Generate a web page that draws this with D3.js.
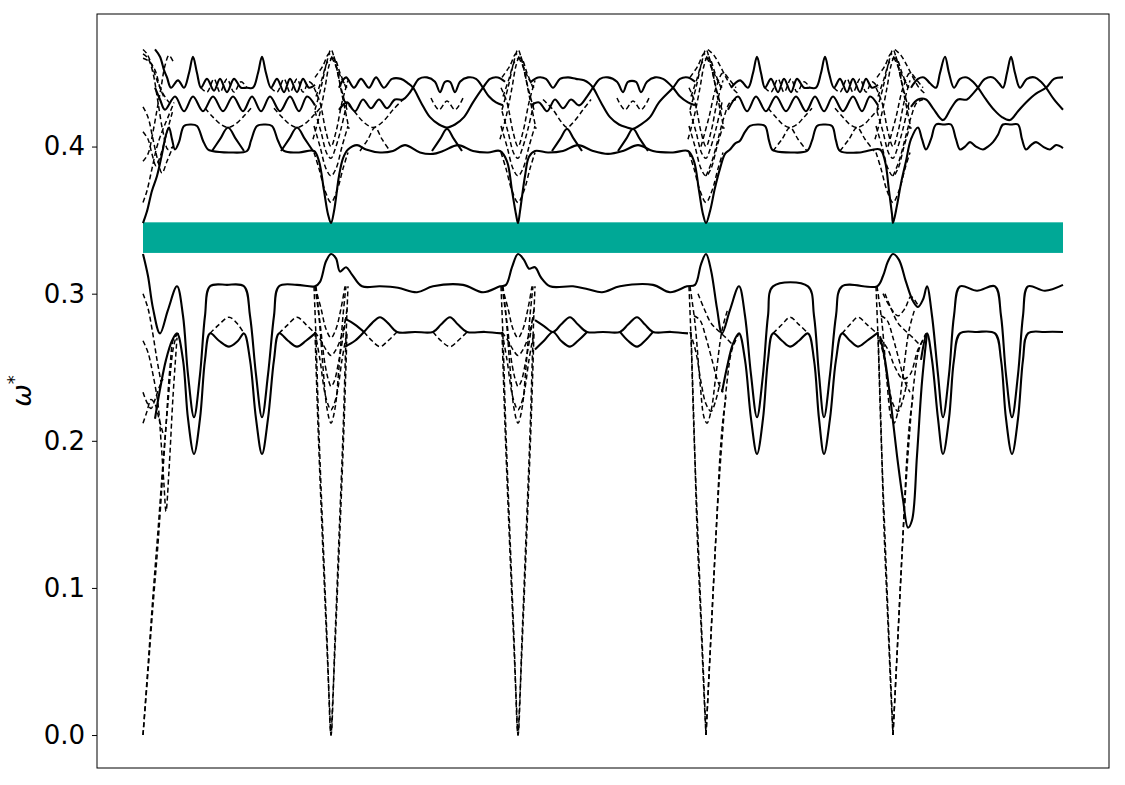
<!DOCTYPE html>
<html>
<head>
<meta charset="utf-8">
<script src="https://cdn.jsdelivr.net/npm/d3@7"></script>
<style>
  body { margin: 0; background: #fff; }
  text { font-family: "DejaVu Sans", sans-serif; }
</style>
</head>
<body>
<div id="chart"></div>
<script>
// path position of the high-symmetry points (arbitrary units along k-path)
var kPoints = [0, 188, 375, 563, 750, 920];
var gapBand = [0.3277, 0.3485];
var yTicks = [0.0, 0.1, 0.2, 0.3, 0.4];

// ---------- lower bands ----------
var lowUpper = [[0,0.327],[5,0.312],[10,0.29],[17,0.273],[25,0.289],[34,0.305],[40,0.285],[45,0.245],[51,0.216],[57,0.245],[62,0.285],[67,0.305],[84,0.306],[101,0.305],[107,0.285],[113,0.245],[119,0.216],[125,0.245],[131,0.285],[136,0.305],[154,0.306],[172,0.305],[177,0.308],[183,0.322],[188,0.327],[193,0.324],[197,0.315],[203,0.318],[209,0.313],[219,0.305],[237,0.305],[255,0.304],[274,0.301],[290,0.305],[320,0.306],[340,0.301],[357,0.305],[363,0.306],[369,0.318],[375,0.327],[381,0.323],[386,0.317],[392,0.318],[398,0.311],[407,0.305],[430,0.305],[445,0.303],[459,0.301],[477,0.305],[510,0.306],[527,0.301],[544,0.305],[552,0.306],[558,0.32],[563,0.327],[568,0.316],[574,0.29],[579,0.273],[587,0.289],[596,0.305],[602,0.285],[608,0.245],[614,0.216],[620,0.245],[625,0.285],[630,0.305],[665,0.305],[671,0.285],[676,0.245],[681,0.216],[687,0.245],[693,0.285],[699,0.305],[734,0.305],[740,0.312],[745,0.322],[750,0.327],[756,0.323],[763,0.308],[770,0.295],[775,0.291],[780,0.296],[784,0.305],[789,0.285],[795,0.245],[800,0.216],[806,0.245],[811,0.285],[817,0.305],[834,0.302],[852,0.305],[858,0.285],[863,0.245],[869,0.216],[875,0.245],[880,0.285],[885,0.305],[902,0.302],[920,0.306]];

var lowSeg1 = [[12,0.215],[17,0.235],[23,0.255],[29,0.268],[34,0.273],[40,0.255],[45,0.215],[51,0.191],[57,0.215],[62,0.255],[67,0.273],[76,0.268],[86,0.264],[95,0.268],[101,0.273],[107,0.255],[113,0.215],[119,0.191],[125,0.215],[131,0.255],[136,0.273],[145,0.268],[154,0.264],[163,0.268],[172,0.273]];
var lowSeg1LoopA = [[67,0.273],[76,0.279],[86,0.284],[95,0.279],[101,0.273]];
var lowSeg1LoopB = [[136,0.273],[145,0.279],[154,0.284],[163,0.279],[172,0.273]];

var lowSeg2 = [[202,0.264],[212,0.268],[221,0.274],[229,0.28],[237,0.284],[245,0.28],[254,0.274],[272,0.274],[290,0.274],[298,0.279],[307,0.284],[315,0.279],[324,0.274],[342,0.274],[359,0.273]];
var lowSeg2Cross = [[202,0.283],[212,0.279],[221,0.274]];
var lowSeg2LoopA = [[221,0.274],[229,0.268],[237,0.264],[245,0.268],[254,0.274]];
var lowSeg2LoopB = [[290,0.274],[298,0.268],[307,0.264],[315,0.268],[324,0.274]];

var lowSeg3 = [[392,0.282],[401,0.278],[410,0.274],[418,0.279],[427,0.284],[435,0.279],[444,0.274],[460,0.274],[477,0.274],[485,0.279],[494,0.284],[502,0.279],[510,0.274],[528,0.274],[545,0.273]];
var lowSeg3LoopA = [[392,0.262],[401,0.268],[410,0.274],[418,0.268],[427,0.264],[435,0.268],[444,0.274]];
var lowSeg3LoopB = [[477,0.274],[485,0.268],[494,0.264],[502,0.268],[510,0.274]];

var lowSeg4 = [[579,0.233],[584,0.25],[590,0.266],[596,0.273],[602,0.255],[608,0.215],[614,0.191],[620,0.215],[625,0.255],[630,0.273],[639,0.268],[647,0.264],[656,0.268],[665,0.273],[671,0.255],[676,0.215],[681,0.191],[687,0.215],[693,0.255],[699,0.273],[707,0.268],[715,0.264],[724,0.268],[734,0.273]];
var lowSeg4LoopA = [[630,0.273],[639,0.279],[647,0.284],[656,0.279],[665,0.273]];
var lowSeg4LoopB = [[699,0.273],[707,0.279],[715,0.284],[724,0.279],[734,0.273]];

var lowSeg5 = [[778,0.255],[784,0.273],[789,0.255],[795,0.215],[800,0.191],[806,0.215],[811,0.255],[817,0.273],[834,0.274],[852,0.273],[858,0.255],[863,0.215],[869,0.191],[875,0.215],[880,0.255],[885,0.273],[902,0.274],[920,0.274]];
var lowSeg5Dip = [[737,0.271],[742,0.255],[748,0.225],[754,0.19],[760,0.16],[765,0.141],[769,0.146],[774,0.19],[779,0.24],[784,0.273]];
var lowSeg5Dash = [[737,0.27],[745,0.262],[752,0.25],[760,0.242],[767,0.245],[775,0.262],[784,0.273]];
var lowSeg5Dash2 = [[740,0.3],[748,0.29],[755,0.285],[762,0.29],[768,0.298],[775,0.292]];

// start of path (lower)
var startLow = [
  [[0,0],[5,0.047],[10,0.095],[15,0.139],[20,0.185],[25,0.226],[30,0.262],[34,0.273]],
  [[0,0],[5,0.043],[10,0.088],[15,0.13],[19,0.17],[23,0.21],[27,0.25],[31,0.27],[36,0.273]],
  [[0,0.268],[5,0.26],[10,0.245],[15,0.225],[18,0.2],[21,0.17],[23,0.152],[26,0.18],[30,0.23],[34,0.27]],
  [[0,0.233],[4,0.226],[8,0.222],[12,0.228],[16,0.236],[20,0.242]],
  [[0,0.212],[4,0.22],[8,0.228],[12,0.225],[16,0.215],[20,0.205]],
  [[0,0.3],[5,0.29],[10,0.272],[14,0.255],[18,0.24]]
];

// bundles at interior k-points, x is offset from the point
var midBundleLow = [
  [[-17,0.305],[-15,0.27],[-12,0.205],[-8,0.135],[-4,0.066],[0,0],[4,0.066],[8,0.135],[12,0.205],[15,0.27],[17,0.305]],
  [[-16,0.274],[-13,0.21],[-9,0.14],[-5,0.075],[-1.5,0.02],[0,0],[1.5,0.02],[5,0.075],[9,0.14],[13,0.21],[16,0.274]],
  [[-15,0.305],[-12,0.285],[-8,0.25],[-4,0.222],[0,0.212],[4,0.222],[8,0.25],[12,0.285],[15,0.305]],
  [[-16,0.274],[-11,0.255],[-6,0.232],[-2,0.223],[0,0.221],[2,0.223],[6,0.232],[11,0.255],[16,0.274]],
  [[-16,0.305],[-11,0.28],[-6,0.252],[-2,0.24],[0,0.237],[3,0.24],[8,0.255],[13,0.275],[16,0.29]],
  [[-16,0.274],[-10,0.268],[-5,0.262],[0,0.258],[5,0.262],[10,0.27],[15,0.284]],
  [[-16,0.305],[-10,0.29],[-5,0.276],[0,0.27],[5,0.276],[10,0.29],[14,0.305]]
];
var turnBundleLow = [
  [[-17,0.305],[-15,0.27],[-12,0.205],[-8,0.135],[-4,0.066],[0,0]],
  [[-15,0.274],[-12,0.21],[-9,0.14],[-5,0.075],[-1.5,0.02],[0,0]],
  [[0,0],[4,0.055],[8,0.11],[12,0.16],[16,0.2],[21,0.24],[26,0.262],[33,0.273]],
  [[0,0],[3,0.04],[7,0.095],[11,0.15],[14,0.19],[17,0.215],[20,0.23]],
  [[-16,0.305],[-11,0.28],[-6,0.24],[-2,0.216],[1,0.212],[5,0.22],[10,0.245],[16,0.275],[22,0.29]],
  [[-16,0.274],[-10,0.26],[-5,0.24],[0,0.225],[5,0.22],[10,0.228],[14,0.24]],
  [[-12,0.285],[-6,0.282],[0,0.27],[6,0.255],[12,0.24],[17,0.233]],
  [[-8,0.3],[-2,0.29],[5,0.28],[12,0.275],[20,0.27],[27,0.265]]
];

// ---------- upper bands ----------
var upLowest = [[0,0.348],[4,0.356],[9,0.37],[14,0.38],[19,0.395],[23,0.408],[26,0.413],[29,0.405],[32,0.398],[36,0.403],[41,0.414],[48,0.415],[54,0.414],[60,0.404],[65,0.398],[69,0.397],[86,0.396],[104,0.397],[108,0.404],[114,0.414],[122,0.415],[129,0.414],[135,0.404],[141,0.397],[156,0.396],[171,0.397],[176,0.39],[181,0.37],[185,0.354],[188,0.348],
  [191,0.356],[196,0.38],[200,0.392],[205,0.398],[214,0.401],[223,0.398],[237,0.396],[250,0.397],[262,0.401],[277,0.396],[290,0.395],[300,0.397],[315,0.401],[330,0.397],[345,0.396],[357,0.397],[364,0.39],[369,0.37],[373,0.354],[375,0.348],
  [377,0.356],[382,0.38],[386,0.393],[392,0.397],[405,0.396],[420,0.397],[435,0.401],[450,0.397],[465,0.395],[480,0.397],[495,0.401],[510,0.397],[530,0.396],[545,0.397],[551,0.39],[556,0.37],[560,0.354],[563,0.348],
  [567,0.356],[572,0.372],[577,0.385],[582,0.395],[587,0.398],[592,0.402],[597,0.404],[602,0.41],[607,0.414],[615,0.415],[622,0.414],[626,0.404],[629,0.398],[632,0.397],[648,0.396],[664,0.397],[669,0.404],[674,0.414],[681,0.415],[689,0.414],[693,0.404],[697,0.397],[717,0.396],[737,0.398],[742,0.39],[746,0.37],[749,0.354],[750,0.348],
  [754,0.36],[758,0.375],[763,0.39],[768,0.405],[775,0.413],[779,0.405],[783,0.398],[788,0.405],[793,0.415],[801,0.415],[808,0.415],[813,0.405],[817,0.398],[822,0.4],[827,0.403],[833,0.4],[840,0.398],[845,0.4],[850,0.403],[855,0.408],[860,0.415],[868,0.415],[875,0.415],[879,0.405],[883,0.398],[888,0.401],[893,0.403],[900,0.4],[907,0.398],[913,0.401],[920,0.399]];

var peaksSolid = [
  [[69,0.397],[77,0.405],[85,0.413],[93,0.405],[101,0.397]],
  [[138,0.397],[146,0.405],[154,0.413],[162,0.405],[170,0.397]],
  [[289,0.397],[297,0.405],[304,0.412],[311,0.405],[319,0.397]],
  [[409,0.397],[417,0.405],[424,0.412],[431,0.405],[439,0.397]],
  [[475,0.397],[483,0.405],[490,0.412],[497,0.405],[505,0.397]]
];
var peaksDashed = [
  [[217,0.397],[225,0.405],[232,0.413],[239,0.405],[247,0.397]],
  [[630,0.397],[639,0.405],[647,0.413],[655,0.405],[664,0.397]],
  [[697,0.397],[706,0.405],[714,0.413],[722,0.405],[731,0.397]]
];
var dipsDashed = [
  [[62,0.426],[70,0.42],[78,0.415],[85,0.413],[92,0.415],[100,0.42],[108,0.426]],
  [[131,0.426],[139,0.42],[147,0.415],[154,0.413],[161,0.415],[169,0.42],[177,0.426]],
  [[200,0.432],[210,0.425],[220,0.417],[230,0.413],[240,0.417],[250,0.425],[260,0.432]],
  [[400,0.432],[410,0.425],[418,0.417],[424,0.413],[431,0.417],[440,0.425],[448,0.432]],
  [[625,0.426],[633,0.42],[640,0.415],[647,0.413],[654,0.415],[661,0.42],[669,0.426]],
  [[692,0.426],[700,0.42],[707,0.415],[714,0.413],[721,0.415],[728,0.42],[736,0.426]]
];

var midSeg1 = [[12,0.44],[17,0.432],[22,0.425],[32,0.434],[41,0.424],[50,0.434],[60,0.424],[70,0.434],[80,0.424],[90,0.434],[100,0.424],[109,0.434],[118,0.424],[127,0.434],[137,0.424],[147,0.434],[156,0.424],[164,0.434],[172,0.428]];
var midSeg4 = [[585,0.425],[595,0.434],[604,0.424],[613,0.434],[623,0.424],[633,0.434],[643,0.424],[653,0.434],[663,0.424],[672,0.434],[681,0.424],[690,0.434],[700,0.424],[710,0.434],[719,0.424],[727,0.434],[735,0.428]];

var topSeg1 = [[12,0.466],[17,0.461],[21,0.452],[24,0.447],[28,0.44],[35,0.445],[41,0.44],[46,0.45],[50,0.461],[54,0.45],[58,0.44],[64,0.446],[71,0.438],[77,0.446],[84,0.437],[91,0.446],[98,0.44],[104,0.44],[110,0.44],[115,0.45],[119,0.461],[123,0.45],[128,0.44],[134,0.446],[141,0.437],[147,0.446],[154,0.437],[160,0.446],[166,0.44],[172,0.442]];
var topSeg4 = [[588,0.44],[597,0.445],[605,0.44],[610,0.45],[614,0.461],[618,0.45],[622,0.44],[628,0.446],[635,0.437],[641,0.446],[648,0.437],[654,0.446],[661,0.44],[667,0.44],[673,0.44],[678,0.45],[682,0.461],[686,0.45],[691,0.44],[697,0.446],[704,0.437],[710,0.446],[717,0.437],[723,0.446],[729,0.44],[735,0.442]];
var topWavesDashed = [
  [[58,0.44],[64,0.437],[71,0.446],[77,0.437],[84,0.446],[91,0.437],[98,0.444],[104,0.44]],
  [[128,0.44],[134,0.437],[141,0.446],[147,0.437],[154,0.446],[160,0.437],[166,0.444],[172,0.44]],
  [[622,0.44],[628,0.437],[635,0.446],[641,0.437],[648,0.446],[654,0.437],[661,0.444],[667,0.44]],
  [[691,0.44],[697,0.437],[704,0.446],[710,0.437],[717,0.446],[723,0.437],[729,0.444],[735,0.44]]
];

var braidSeg2A = [[196,0.44],[203,0.447],[211,0.44],[218,0.446],[226,0.44],[233,0.447],[241,0.44],[249,0.446],[258,0.446],[265,0.443],[270,0.44],[278,0.43],[287,0.42],[296,0.415],[304,0.413],[312,0.415],[321,0.42],[330,0.43],[340,0.44],[347,0.446],[355,0.447],[362,0.444]];
var braidSeg2B = [[196,0.425],[204,0.43],[212,0.424],[220,0.432],[228,0.426],[236,0.432],[244,0.426],[252,0.432],[260,0.432],[266,0.436],[270,0.44],[276,0.446],[284,0.447],[292,0.444],[297,0.437],[302,0.444],[307,0.444],[312,0.437],[317,0.444],[325,0.447],[333,0.446],[340,0.44],[346,0.434],[353,0.43],[360,0.428]];
var braidSeg3A = [[388,0.444],[395,0.447],[403,0.446],[410,0.44],[417,0.446],[425,0.447],[433,0.446],[441,0.445],[446,0.443],[450,0.44],[458,0.43],[467,0.42],[476,0.415],[484,0.413],[490,0.412],[498,0.415],[507,0.42],[516,0.43],[530,0.44],[537,0.446],[545,0.447],[552,0.444]];
var braidSeg3B = [[388,0.428],[396,0.43],[404,0.424],[412,0.432],[420,0.426],[428,0.432],[436,0.428],[444,0.434],[450,0.44],[457,0.446],[465,0.447],[474,0.444],[480,0.437],[485,0.444],[493,0.444],[498,0.437],[504,0.444],[512,0.447],[520,0.446],[530,0.44],[537,0.434],[545,0.43],[552,0.428]];
var braidInnerDashed = [
  [[288,0.433],[296,0.425],[304,0.431],[312,0.425],[320,0.433]],
  [[474,0.433],[482,0.425],[490,0.431],[498,0.425],[506,0.433]]
];

var topSeg5A = [[768,0.44],[775,0.446],[781,0.447],[787,0.443],[793,0.44],[797,0.45],[802,0.461],[806,0.45],[811,0.44],[817,0.446],[824,0.447],[830,0.444],[835,0.44],[843,0.432],[851,0.425],[859,0.42],[867,0.418],[875,0.424],[883,0.43],[893,0.436],[903,0.44],[911,0.446],[920,0.447]];
var topSeg5B = [[768,0.427],[775,0.432],[783,0.432],[790,0.426],[800,0.418],[808,0.426],[815,0.432],[824,0.432],[830,0.436],[835,0.44],[842,0.446],[850,0.447],[856,0.443],[860,0.44],[864,0.45],[868,0.461],[872,0.45],[877,0.44],[884,0.446],[892,0.447],[898,0.444],[903,0.44],[911,0.432],[920,0.425]];

var startUp = [
  [[0,0.466],[4,0.463],[9,0.455],[14,0.445],[20,0.436],[26,0.43]],
  [[0,0.463],[5,0.46],[10,0.45],[15,0.43],[20,0.41],[25,0.398],[30,0.4]],
  [[0,0.46],[6,0.458],[12,0.452],[17,0.44],[22,0.432]],
  [[0,0.427],[5,0.42],[10,0.405],[15,0.39],[19,0.382],[24,0.39],[30,0.4]],
  [[0,0.41],[5,0.405],[9,0.395],[13,0.387],[18,0.395],[24,0.41],[30,0.425]],
  [[0,0.362],[4,0.37],[9,0.385],[14,0.4],[19,0.41],[25,0.42],[31,0.43]],
  [[0,0.39],[5,0.395],[10,0.41],[14,0.425],[18,0.44],[22,0.455],[26,0.462],[30,0.458]]
];
var bundleUp = [
  [[-17,0.396],[-12,0.385],[-6,0.37],[0,0.362],[6,0.37],[12,0.385],[17,0.396]],
  [[-17,0.414],[-11,0.4],[-5,0.385],[0,0.38],[5,0.385],[11,0.4],[17,0.414]],
  [[-16,0.424],[-10,0.41],[-4,0.395],[0,0.392],[4,0.398],[10,0.412],[16,0.43]],
  [[-16,0.425],[-10,0.44],[-4,0.458],[0,0.466],[4,0.458],[10,0.44],[16,0.425]],
  [[-18,0.405],[-12,0.42],[-6,0.44],[-2,0.455],[2,0.462],[6,0.452],[12,0.432],[18,0.412]],
  [[-16,0.447],[-8,0.455],[-2,0.463],[4,0.456],[10,0.447],[16,0.44]],
  [[-17,0.44],[-11,0.43],[-5,0.41],[0,0.4],[5,0.41],[11,0.43],[17,0.445]],
  [[-15,0.434],[-9,0.446],[-3,0.458],[3,0.46],[9,0.45],[15,0.44]]
];
var turnBundleUp = [
  [[-5,0.4],[3,0.42],[10,0.44],[17,0.45],[24,0.445],[30,0.44]],
  [[0,0.38],[6,0.39],[12,0.405],[18,0.42],[24,0.43],[30,0.432]],
  [[2,0.466],[8,0.462],[14,0.455],[20,0.447],[26,0.44],[32,0.436]]
];

// build the list of lines the chart needs
var midPoints = [kPoints[1], kPoints[2]];
var turnPoints = [kPoints[3], kPoints[4]];
var interior = [kPoints[1], kPoints[2], kPoints[3], kPoints[4]];

function shift(arr, k) { return arr.map(function (p) { return [p[0] + k, p[1]]; }); }

var lines = [];
function add(pts, dashed) { lines.push({ pts: pts, dashed: dashed }); }

startLow.forEach(function (c) { add(c, true); });
startUp.forEach(function (c) { add(c, true); });
midPoints.forEach(function (k) { midBundleLow.forEach(function (c) { add(shift(c, k), true); }); });
turnPoints.forEach(function (k) { turnBundleLow.forEach(function (c) { add(shift(c, k), true); }); });
interior.forEach(function (k) { bundleUp.forEach(function (c) { add(shift(c, k), true); }); });
turnPoints.forEach(function (k) { turnBundleUp.forEach(function (c) { add(shift(c, k), true); }); });

[lowSeg1LoopA, lowSeg1LoopB, lowSeg2LoopA, lowSeg2LoopB, lowSeg4LoopA, lowSeg4LoopB,
 lowSeg5Dash, lowSeg5Dash2].forEach(function (c) { add(c, true); });
peaksDashed.concat(dipsDashed, topWavesDashed, braidInnerDashed).forEach(function (c) { add(c, true); });

[lowUpper, lowSeg1, lowSeg2, lowSeg2Cross, lowSeg3, lowSeg3LoopA, lowSeg3LoopB, lowSeg4, lowSeg5, lowSeg5Dip,
 upLowest, midSeg1, midSeg4, topSeg1, topSeg4, braidSeg2A, braidSeg2B, braidSeg3A, braidSeg3B,
 topSeg5A, topSeg5B].forEach(function (c) { add(c, false); });
peaksSolid.forEach(function (c) { add(c, false); });

// ---------- chart ----------
var svgWidth = 1125;
var svgHeight = 785;
var margin = { top: 14, right: 16, bottom: 17, left: 97 };
var width = svgWidth - margin.left - margin.right;
var height = svgHeight - margin.top - margin.bottom;

var svg = d3.select("#chart").append("svg")
  .attr("width", svgWidth)
  .attr("height", svgHeight);

var chartGroup = svg.append("g")
  .attr("transform", `translate(${margin.left}, ${margin.top})`);

var span = kPoints[kPoints.length - 1];
var xScale = d3.scaleLinear()
  .domain([-0.05 * span, 1.05 * span])
  .range([0, width]);

var yScale = d3.scaleLinear()
  .domain([-0.0224, 0.4901])
  .range([height, 0]);

// band gap
chartGroup.append("rect")
  .attr("x", xScale(0))
  .attr("width", xScale(span) - xScale(0))
  .attr("y", yScale(gapBand[1]))
  .attr("height", yScale(gapBand[0]) - yScale(gapBand[1]))
  .attr("fill", "#00a896");

var line = d3.line()
  .x(d => xScale(d[0]))
  .y(d => yScale(d[1]))
  .curve(d3.curveCatmullRom.alpha(0.5));

chartGroup.selectAll("path.band")
  .data(lines)
  .enter()
  .append("path")
  .attr("class", "band")
  .attr("d", d => line(d.pts))
  .attr("fill", "none")
  .attr("stroke", "#000")
  .attr("stroke-width", d => d.dashed ? 1.5 : 2.1)
  .attr("stroke-dasharray", d => d.dashed ? "5,3" : null)
  .attr("stroke-linejoin", "round");

// y axis
var yAxis = d3.axisLeft(yScale)
  .tickValues(yTicks)
  .tickFormat(d3.format(".1f"))
  .tickSize(5)
  .tickPadding(7);

var yAxisG = chartGroup.append("g").call(yAxis);
yAxisG.select(".domain").remove();
yAxisG.selectAll("text")
  .attr("font-size", 26)
  .attr("font-family", "DejaVu Sans")
  .attr("fill", "#000");
yAxisG.selectAll("line").attr("stroke", "#000").attr("stroke-width", 1);

// frame
chartGroup.append("rect")
  .attr("x", 0).attr("y", 0)
  .attr("width", width).attr("height", height)
  .attr("fill", "none")
  .attr("stroke", "#000")
  .attr("stroke-width", 1);

// axis label
var ylab = svg.append("text")
  .attr("transform", `translate(31, ${margin.top + height / 2}) rotate(-90)`)
  .attr("text-anchor", "middle")
  .attr("font-size", 27);
ylab.append("tspan").attr("font-style", "italic").text("ω");
ylab.append("tspan").attr("font-size", 18).attr("dy", -11).text("*");
</script>
</body>
</html>
